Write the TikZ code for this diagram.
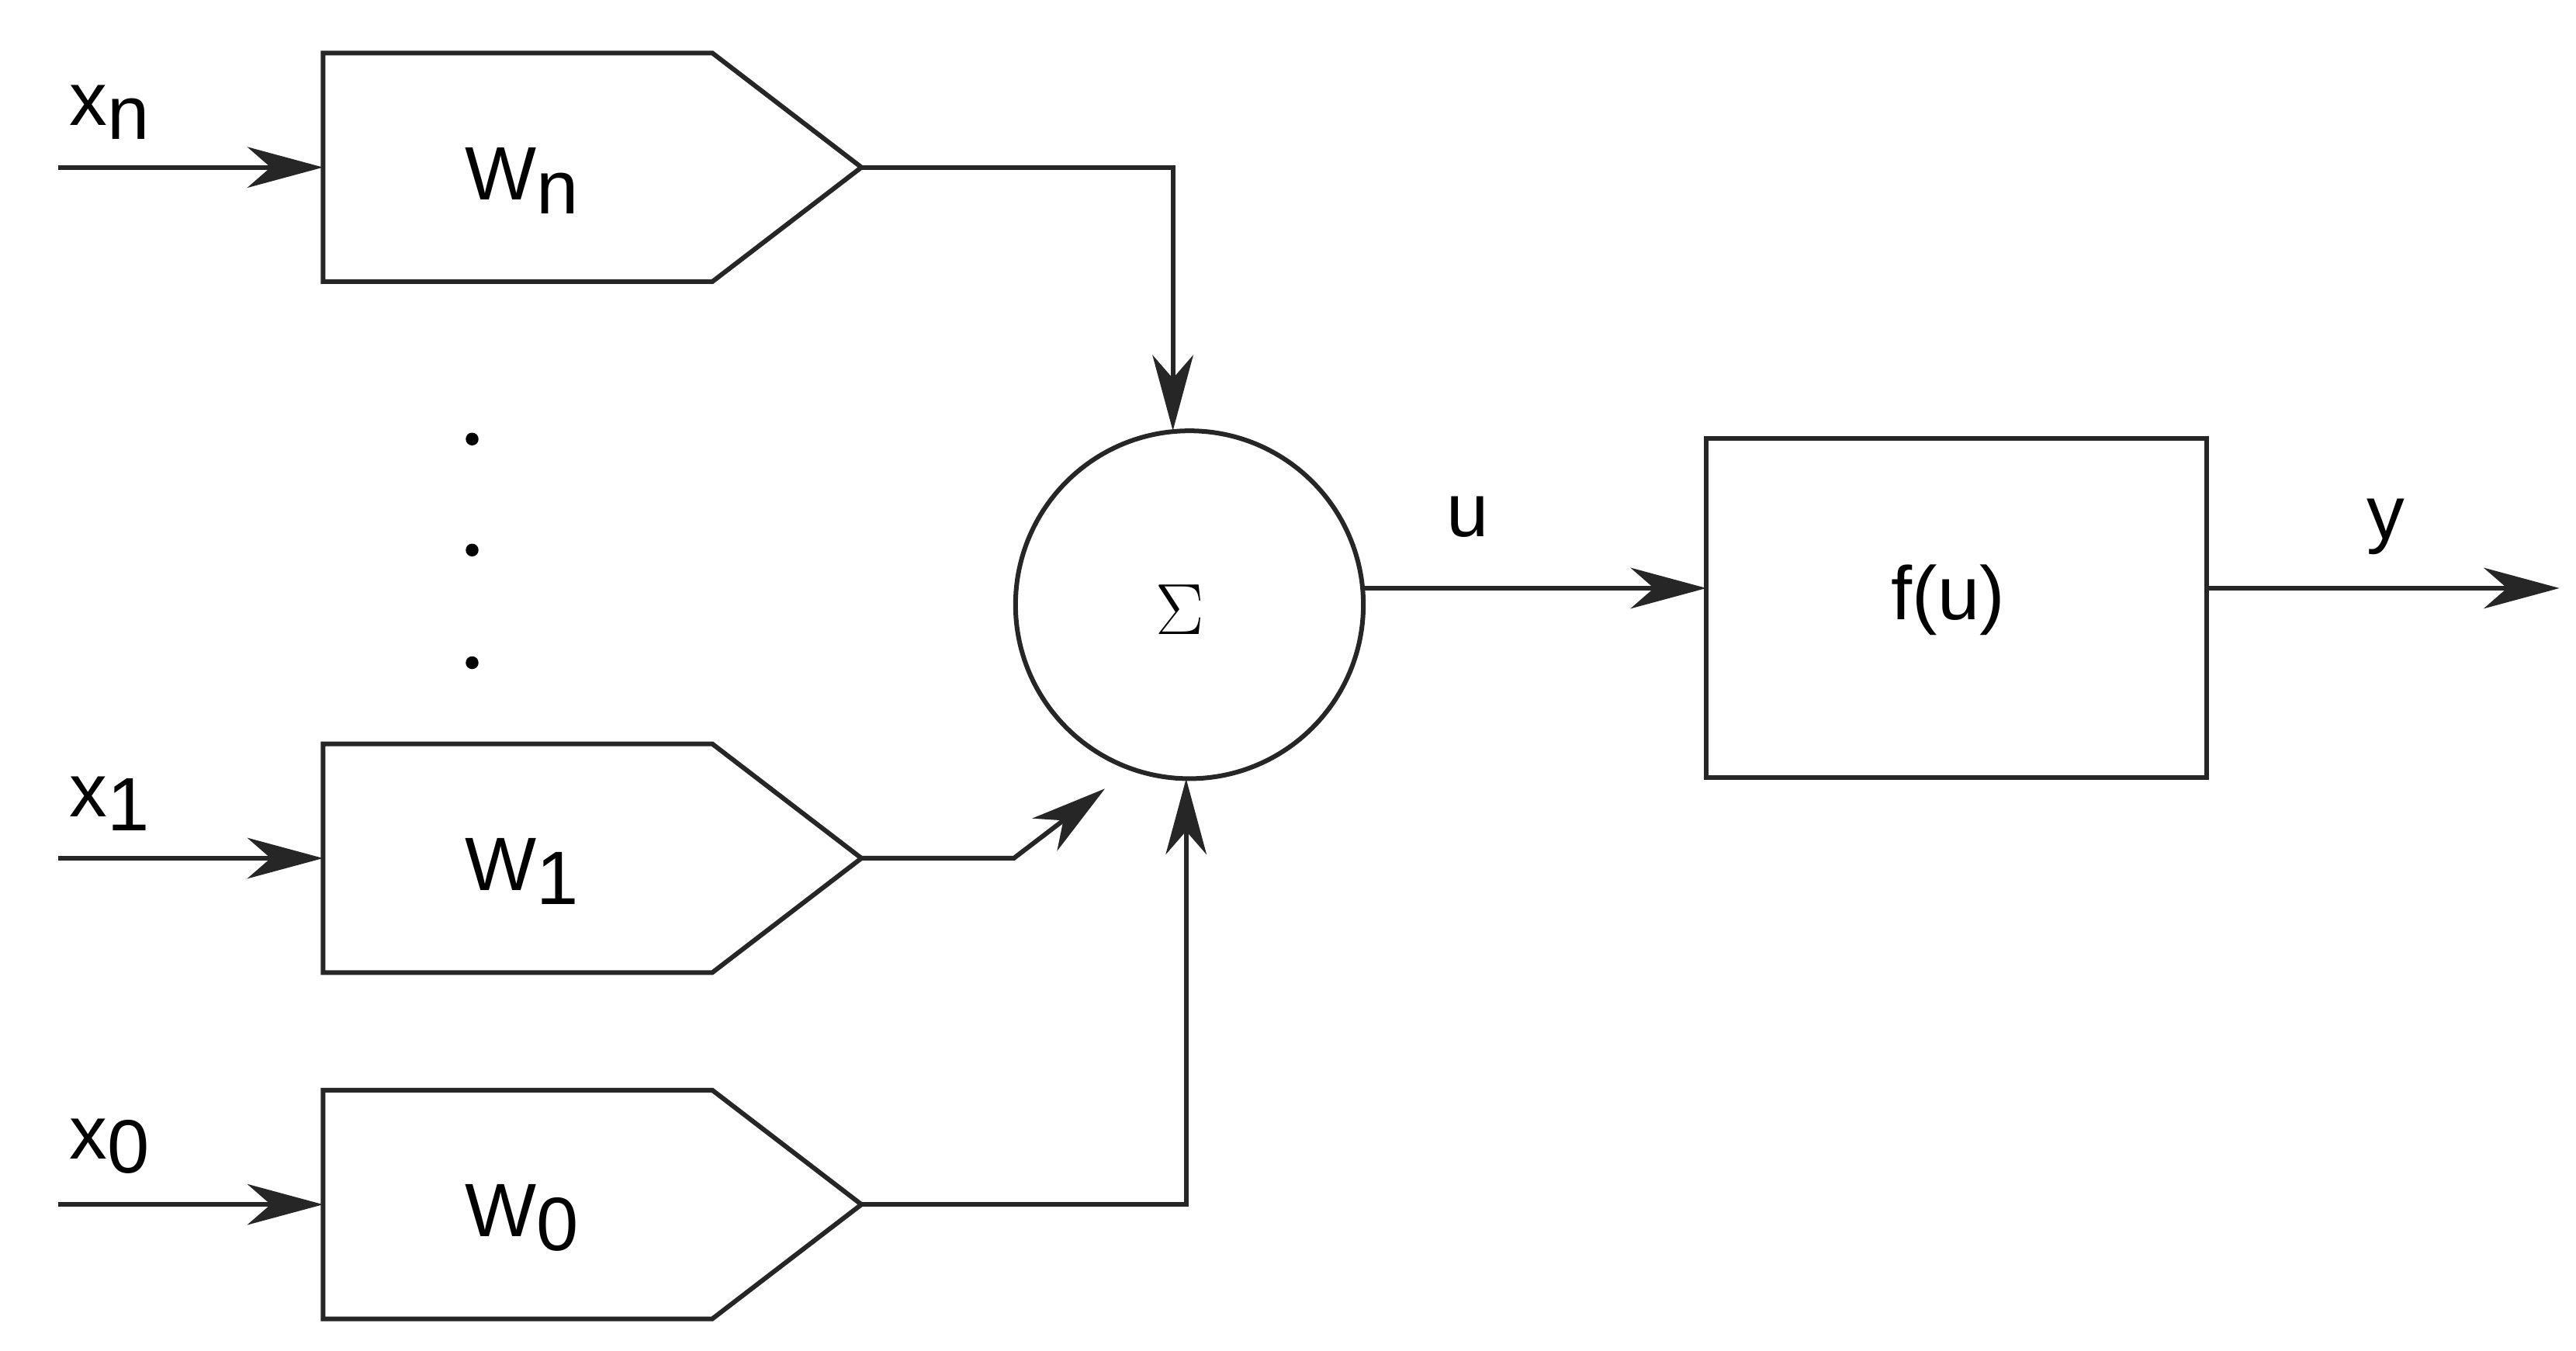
\documentclass[tikz,border=0pt]{standalone}
\usepackage{fontspec}
\setmainfont{Liberation Sans}
\usetikzlibrary{arrows.meta}
\begin{document}
\begin{tikzpicture}[x=0.02cm,y=-0.02cm,
  ln/.style={line width=1.6pt,draw=black!85},
  arr/.style={ln,-{Stealth[length=26pt,width=14pt,inset=8pt]}},
  lab/.style={font=\fontsize{26}{30}\selectfont},
  sub/.style={}]
\useasboundingbox (0,0) rectangle (1555,815);
\newcommand{\wbox}[3]{%
  \draw[ln] (195,#1-69) -- (430,#1-69) -- (520,#1) -- (430,#1+69) -- (195,#1+69) -- cycle;
  \coordinate (#2in) at (195,#1); \coordinate (#2out) at (520,#1);
  \node[lab] (#2lab) at (315,#1+8) {W\raisebox{-0.35ex}{#3}};}
\wbox{101}{wn}{n}
\wbox{518}{w1}{1}
\wbox{727}{w0}{0}
\coordinate (xn) at (35,101); \coordinate (x1) at (35,518); \coordinate (x0) at (35,727);
\draw[arr] (xn) -- (wnin);
\draw[arr] (x1) -- (w1in);
\draw[arr] (x0) -- (w0in);
\node[lab] (lxn) at (66,68) {x\raisebox{-0.35ex}{n}};
\node[lab] (lx1) at (66,485) {x\raisebox{-0.35ex}{1}};
\node[lab] (lx0) at (66,692) {x\raisebox{-0.35ex}{0}};
\foreach \yy/\nn in {265/d1,332/d2,400/d3} \fill (285,\yy) circle (2.2pt) coordinate (\nn);
\node[ln,circle,minimum size=4.2cm,inner sep=0pt] (sum) at (718,365) {};
\node[lab,font=\fontsize{34}{40}\selectfont] (sig) at (712,368) {$\Sigma$};
\coordinate (c1) at (708,101);
\draw[arr] (wnout) -- (c1) -- (708,260);
\coordinate (c2) at (612,518);
\draw[arr] (w1out) -- (c2) -- (667,476);
\coordinate (c3) at (716,727);
\draw[arr] (w0out) -- (c3) -- (716,470);
\node[ln,rectangle,minimum width=6.04cm,minimum height=4.1cm] (f) at (1181,367) {};
\node[lab] (flab) at (1176,362) {f(u)};
\draw[arr] (823,355) -- (1030,355);
\node[lab] (lu) at (886,312) {u};
\coordinate (yend) at (1545,355);
\draw[arr] (1332,355) -- (yend);
\node[lab] (ly) at (1440,318) {y};
\end{tikzpicture}
\end{document}
